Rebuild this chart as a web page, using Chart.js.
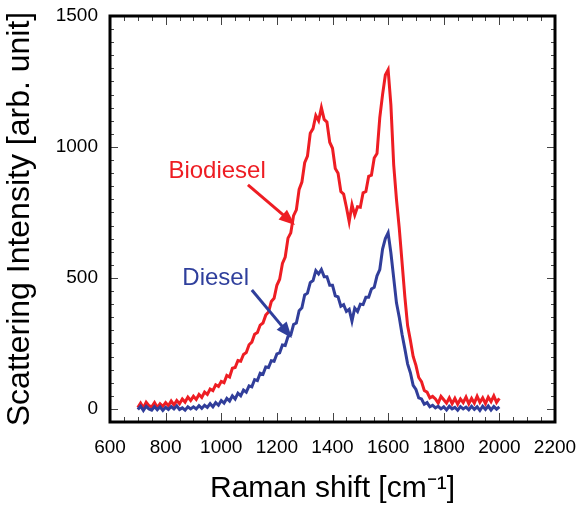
<!DOCTYPE html>
<html>
<head>
<meta charset="utf-8">
<title>Raman spectra - Biodiesel / Diesel</title>
<script src="https://cdn.jsdelivr.net/npm/chart.js@4.4.1/dist/chart.umd.min.js"></script>
<style>
html, body { margin: 0; padding: 0; background: #fff; }
#wrap { width: 578px; height: 509px; }
</style>
</head>
<body>
<div id="wrap"><canvas id="ramanChart" width="578" height="509"></canvas></div>
<script>
// Raman shift [cm-1]
const wavenumber = [
  700, 710, 720, 730, 740, 750, 760, 770, 780, 790,
  800, 810, 820, 830, 840, 850, 860, 870, 880, 890,
  900, 910, 920, 930, 940, 950, 960, 970, 980, 990,
  1000, 1010, 1020, 1030, 1040, 1050, 1060, 1070, 1080, 1090,
  1100, 1110, 1120, 1130, 1140, 1150, 1160, 1170, 1180, 1190,
  1200, 1210, 1220, 1230, 1240, 1250, 1260, 1270, 1280, 1290,
  1300, 1310, 1320, 1330, 1340, 1350, 1360, 1370, 1380, 1390,
  1400, 1410, 1420, 1430, 1440, 1450, 1460, 1470, 1480, 1490,
  1500, 1510, 1520, 1530, 1540, 1550, 1560, 1570, 1580, 1590,
  1600, 1610, 1620, 1630, 1640, 1650, 1660, 1670, 1680, 1690,
  1700, 1710, 1720, 1730, 1740, 1750, 1760, 1770, 1780, 1790,
  1800, 1810, 1820, 1830, 1840, 1850, 1860, 1870, 1880, 1890,
  1900, 1910, 1920, 1930, 1940, 1950, 1960, 1970, 1980, 1990,
  2000
];

// intensita' [arb. unit]
const biodiesel = [
  5, 22, 4, 25, 12, 8, 24, 5, 20, 10,
  24, 12, 30, 15, 32, 20, 38, 26, 45, 32,
  48, 36, 55, 44, 64, 55, 76, 70, 92, 86,
  105, 100, 128, 122, 155, 158, 185, 182, 208, 215,
  245, 255, 285, 292, 320, 328, 358, 370, 410, 422,
  472, 495, 555, 580, 652, 672, 738, 760, 838, 866,
  940, 965, 1052, 1070, 1120, 1100, 1150, 1105, 1095, 1018,
  995, 918, 900, 830, 820, 770, 715, 780, 740, 772,
  770, 825, 830, 888, 892, 958, 975, 1112, 1200, 1275,
  1295, 1160, 932, 800, 690, 560, 430, 318, 262, 200,
  166, 120, 104, 70, 64, 42, 48, 38, 22, 48,
  35, 22, 42, 20, 40, 18, 38, 24, 45, 20,
  40, 22, 48, 25, 42, 20, 45, 28, 50, 25,
  40
];

const diesel = [
  -2, 10, -6, 10, 0, -5, 9, -3, 8, -6,
  6, -2, 9, 0, 12, -2, 4, -5, 8, 0,
  8, 0, 12, 2, 14, 6, 20, 8, 24, 14,
  32, 22, 40, 30, 50, 38, 60, 50, 72, 64,
  88, 84, 112, 108, 136, 132, 160, 158, 184, 182,
  210, 214, 244, 242, 276, 282, 322, 328, 375, 386,
  435, 442, 482, 490, 528, 515, 532, 505, 505, 472,
  472, 432, 428, 392, 398, 372, 380, 335, 385, 372,
  400, 398, 426, 426, 458, 464, 508, 532, 610, 650,
  672, 595, 500, 405, 350, 285, 230, 172, 138, 90,
  74, 42, 38, 18, 24, 8, 14, 4, 10, 0,
  8, -4, 10, 0, 6, -5, 9, 0, 7, -3,
  10, -2, 8, -6, 10, -2, 11, -4, 9, -1,
  8
];

const xTicks = [600, 800, 1000, 1200, 1400, 1600, 1800, 2000, 2200];
const yTicks = [0, 500, 1000, 1500];

// etichette con freccia (coordinate nei valori degli assi)
const labels = [
  { text: 'Biodiesel', x: 985, y: 905, color: '#ee1d23', from: [1096, 855], to: [1265, 702] },
  { text: 'Diesel', x: 980, y: 500, color: '#2f3f9c', from: [1110, 454], to: [1254, 271] }
];

const RED = '#ee1d23';
const BLUE = '#313e9a';
const FONT = "'Liberation Sans', Arial, Helvetica, sans-serif";

function drawArrow(ctx, x1, y1, x2, y2, color) {
    const ang = Math.atan2(y2 - y1, x2 - x1);
    const head = 16, half = 6.5;
    const c = Math.cos(ang), s = Math.sin(ang);
    ctx.strokeStyle = color;
    ctx.fillStyle = color;
    ctx.lineWidth = 3;
    ctx.beginPath();
    ctx.moveTo(x1, y1);
    ctx.lineTo(x2 - head * 0.8 * c, y2 - head * 0.8 * s);
    ctx.stroke();
    ctx.beginPath();
    ctx.moveTo(x2, y2);
    ctx.lineTo(x2 - head * c + half * s, y2 - head * s - half * c);
    ctx.lineTo(x2 - head * c - half * s, y2 - head * s + half * c);
    ctx.closePath();
    ctx.fill();
}

// cornice + tacche verso l'interno + etichette
const framePlugin = {
    id: 'frame',
    afterDatasetsDraw(chart) {
        const { ctx, chartArea: a, scales: { x, y } } = chart;
        ctx.save();

        ctx.strokeStyle = '#444';
        ctx.lineWidth = 1;
        ctx.beginPath();
        for (let v = x.min; v <= x.max; v += 50) {
            const px = Math.round(x.getPixelForValue(v)) + 0.5;
            const len = v % 200 === 0 ? 9 : 5;
            ctx.moveTo(px, a.bottom); ctx.lineTo(px, a.bottom - len);
            ctx.moveTo(px, a.top); ctx.lineTo(px, a.top + len);
        }
        for (let v = 0; v <= y.max; v += 50) {
            const py = Math.round(y.getPixelForValue(v)) + 0.5;
            const len = v % 500 === 0 ? 8 : 4;
            ctx.moveTo(a.left, py); ctx.lineTo(a.left + len, py);
            ctx.moveTo(a.right, py); ctx.lineTo(a.right - len, py);
        }
        ctx.stroke();

        ctx.strokeStyle = '#000';
        ctx.lineWidth = 3;
        ctx.strokeRect(a.left, a.top, a.right - a.left, a.bottom - a.top);

        labels.forEach(l => {
            ctx.font = '24px ' + FONT;
            ctx.fillStyle = l.color;
            ctx.textAlign = 'center';
            ctx.textBaseline = 'middle';
            ctx.fillText(l.text, x.getPixelForValue(l.x), y.getPixelForValue(l.y));
            drawArrow(ctx,
                x.getPixelForValue(l.from[0]), y.getPixelForValue(l.from[1]),
                x.getPixelForValue(l.to[0]), y.getPixelForValue(l.to[1]), l.color);
        });
        ctx.restore();
    }
};

Chart.defaults.color = '#000';

const toPoints = arr => arr.map((v, i) => ({ x: wavenumber[i], y: v }));

new Chart(document.getElementById('ramanChart'), {
    type: 'line',
    data: {
        datasets: [
            { label: 'Diesel', data: toPoints(diesel), borderColor: BLUE, borderWidth: 3, pointRadius: 0, tension: 0 },
            { label: 'Biodiesel', data: toPoints(biodiesel), borderColor: RED, borderWidth: 3, pointRadius: 0, tension: 0 }
        ]
    },
    options: {
        responsive: false,
        animation: false,
        layout: { padding: { top: 16, right: 23, left: 0, bottom: 0 } },
        plugins: { legend: { display: false }, tooltip: { enabled: false } },
        scales: {
            x: {
                type: 'linear',
                min: 600,
                max: 2200,
                afterBuildTicks: s => { s.ticks = xTicks.map(v => ({ value: v })); },
                afterFit: s => { s.height = 87; s.paddingLeft = 0; s.paddingRight = 0; },
                grid: { display: false, drawTicks: false },
                border: { display: false },
                ticks: {
                    padding: 14, maxRotation: 0, minRotation: 0, autoSkip: false,
                    font: { family: FONT, size: 19 }, color: '#000',
                    callback: v => String(v)
                },
                title: {
                    display: true,
                    text: 'Raman shift [cm\u207B\u00B9]',
                    font: { family: FONT, size: 30 },
                    padding: { top: 0, bottom: 2 },
                    color: '#000'
                }
            },
            y: {
                type: 'linear',
                min: -50,
                max: 1500,
                afterBuildTicks: s => { s.ticks = yTicks.map(v => ({ value: v })); },
                afterFit: s => { s.width = 110; s.paddingTop = 0; s.paddingBottom = 0; },
                grid: { display: false, drawTicks: false },
                border: { display: false },
                ticks: {
                    padding: 12, font: { family: FONT, size: 19 }, color: '#000',
                    callback: v => String(v)
                },
                title: {
                    display: true,
                    text: 'Scattering Intensity [arb. unit]',
                    font: { family: FONT, size: 32 },
                    padding: { top: 1, bottom: 0 },
                    color: '#000'
                }
            }
        }
    },
    plugins: [framePlugin]
});
</script>
</body>
</html>
